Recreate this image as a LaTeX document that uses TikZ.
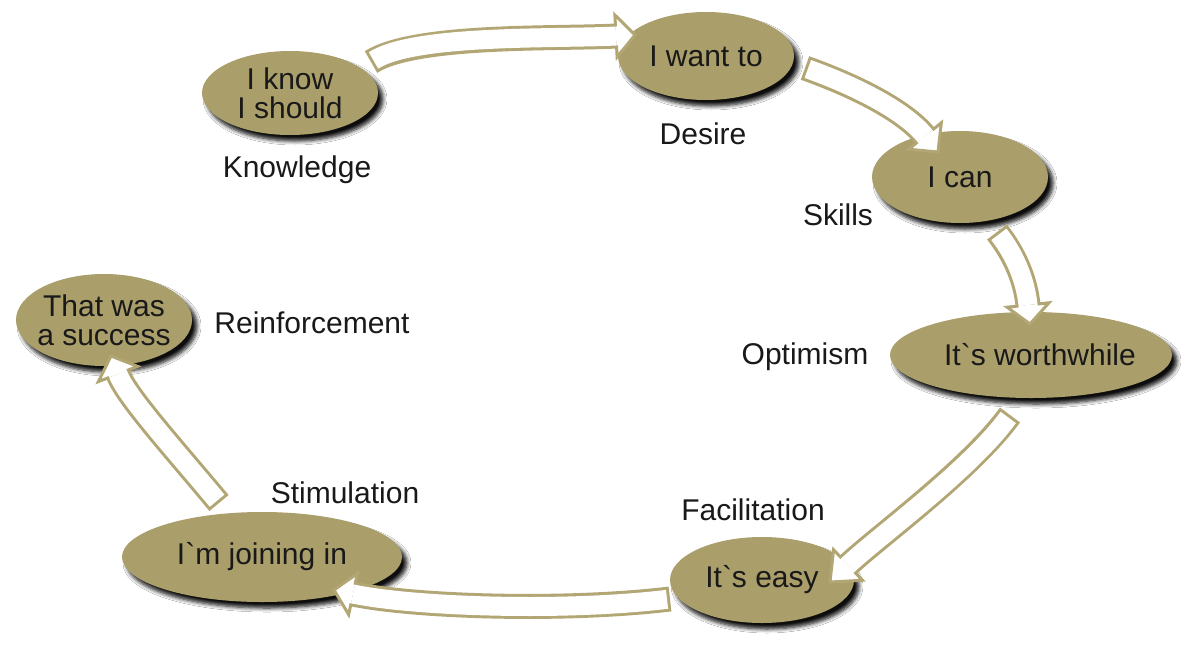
\documentclass[tikz,border=0pt]{standalone}
\usepackage{fontspec}
\setmainfont{Liberation Sans}
\usetikzlibrary{calc,shapes.geometric,shadows,shadows.blur}
\definecolor{bubblecol}{RGB}{170,158,106}
\definecolor{arrowcol}{RGB}{178,166,116}
\definecolor{textcol}{RGB}{25,25,25}
\newcommand\fatarrow[5]{%
  \draw[arrowcol, line width=25pt] (#1) .. controls (#2) and ($(#3)!-#5!(#4)$) .. (#3);
  \draw[arrowcol, fill=white, line width=3pt, line join=miter] ($(#3)!21pt!90:(#4)$) -- (#4) -- ($(#3)!21pt!-90:(#4)$) -- cycle;
  \draw[white, line width=19pt, shorten <=3pt] (#1) .. controls (#2) and ($(#3)!-#5!(#4)$) .. (#3);
  \draw[white, line width=19pt] (#3) -- ($(#3)!4pt!(#4)$);
}
\begin{document}
\begin{tikzpicture}[x=1pt,y=-1pt,
  bubble/.style={ellipse, fill=bubblecol, inner xsep=-30pt, inner ysep=-5pt,
    align=center, text=textcol, font=\fontsize{30}{29}\selectfont,
    blur shadow={shadow xshift=5pt, shadow yshift=-6pt, shadow blur radius=4pt, shadow opacity=95, shadow blur steps=6}},
  lbl/.style={text=textcol, font=\fontsize{30}{33}\selectfont, inner sep=0pt}]
\useasboundingbox[fill=white] (0,0) rectangle (1191,651);

% bubbles
\node[bubble, minimum width=176pt, minimum height=84pt] (know) at (290,93) {I know\\I should};
\node[bubble, minimum width=176pt, minimum height=88pt] (want) at (706,56) {I want to};
\node[bubble, minimum width=176pt, minimum height=92pt] (can) at (960,177) {I can};
\node[bubble, minimum width=282pt, minimum height=86pt] (worth) at (1031,355) {\hspace{18pt}It\textasciigrave s worthwhile};
\node[bubble, minimum width=184pt, minimum height=86pt] (easy) at (762,580) {It\textasciigrave s easy};
\node[bubble, minimum width=280pt, minimum height=90pt] (join) at (262,557) {I\textasciigrave m joining in};
\node[bubble, minimum width=176pt, minimum height=92pt] (succ) at (104,320) {That was\\a success};

% labels
\node[lbl] (lknow) at (297,170) {Knowledge};
\node[lbl] (lwant) at (703,134) {Desire};
\node[lbl] (lcan) at (838,215) {Skills};
\node[lbl] (lworth) at (805,357) {Optimism};
\node[lbl] (leasy) at (753,510) {Facilitation};
\node[lbl] (ljoin) at (345,493) {Stimulation};
\node[lbl] (lsucc) at (312,323) {Reinforcement};

% arrow coordinates
\coordinate (a1s) at (371,62);  \coordinate (a1c) at (415,34);
\coordinate (a1b) at (616,36);  \coordinate (a1t) at (635,35);
\coordinate (a2s) at (805,68);  \coordinate (a2c) at (850,84);
\coordinate (a2b) at (925,136); \coordinate (a2t) at (938,152);
\coordinate (a3s) at (997,232); \coordinate (a3c) at (1015,255);
\coordinate (a3b) at (1028,305); \coordinate (a3t) at (1030,324);
\coordinate (a4s) at (1010,415); \coordinate (a4c) at (970,470);
\coordinate (a4b) at (848,565); \coordinate (a4t) at (830,582);
\coordinate (a5s) at (670,599); \coordinate (a5c) at (560,612);
\coordinate (a5b) at (353,594); \coordinate (a5t) at (334,590);
\coordinate (a6s) at (219,503); \coordinate (a6c) at (175,450);
\coordinate (a6b) at (118,374); \coordinate (a6t) at (111,356);

\fatarrow{a1s}{a1c}{a1b}{a1t}{60pt}
\fatarrow{a2s}{a2c}{a2b}{a2t}{35pt}
\fatarrow{a3s}{a3c}{a3b}{a3t}{25pt}
\fatarrow{a4s}{a4c}{a4b}{a4t}{40pt}
\fatarrow{a5s}{a5c}{a5b}{a5t}{60pt}
\fatarrow{a6s}{a6c}{a6b}{a6t}{25pt}
\end{tikzpicture}
\end{document}
